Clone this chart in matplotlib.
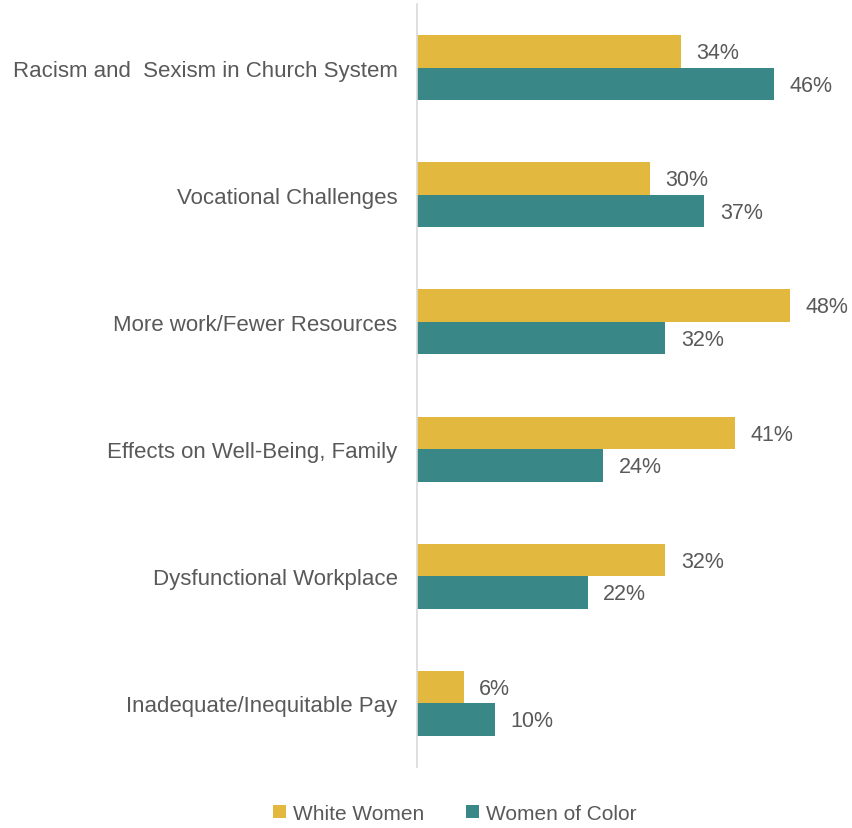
import matplotlib.pyplot as plt
import numpy as np

plt.rcParams['font.family'] = ['Liberation Sans', 'DejaVu Sans']

categories = [
    'Racism and  Sexism in Church System',
    'Vocational Challenges',
    'More work/Fewer Resources',
    'Effects on Well-Being, Family',
    'Dysfunctional Workplace',
    'Inadequate/Inequitable Pay',
]
white_women = [34, 30, 48, 41, 32, 6]
women_of_color = [46, 37, 32, 24, 22, 10]

gold = '#E2B93E'
teal = '#3A8787'
text_color = '#595959'

fig = plt.figure(figsize=(8.53, 8.29), dpi=100)
ax = fig.add_axes([417 / 853, 61 / 829, 427 / 853, 763 / 829])

y = np.arange(len(categories))
h = 0.256
ax.barh(y - h / 2, white_women, height=h, color=gold, label='White Women')
ax.barh(y + h / 2, women_of_color, height=h, color=teal, label='Women of Color')

for yi, v in zip(y, white_women):
    ax.text(v + 2.0, yi - h / 2 + 0.01, f'{v}%', va='center', ha='left',
            fontsize=15.5, color=text_color)
for yi, v in zip(y, women_of_color):
    ax.text(v + 2.0, yi + h / 2 + 0.01, f'{v}%', va='center', ha='left',
            fontsize=15.5, color=text_color)

ax.set_ylim(len(categories) - 0.5, -0.5)
ax.set_xlim(0, 55)
ax.set_yticks(y)
ax.set_yticklabels(categories, fontsize=16, color=text_color)
ax.tick_params(axis='y', length=0, pad=14)
ax.set_xticks([])
for s in ['top', 'right', 'bottom']:
    ax.spines[s].set_visible(False)
ax.spines['left'].set_color('#D9D9D9')
ax.spines['left'].set_linewidth(1.2)

fig.legend(loc='lower center', bbox_to_anchor=(455 / 853, -0.016), ncol=2,
           frameon=False, fontsize=15, labelcolor=text_color,
           handlelength=0.6, handleheight=0.6, handletextpad=0.35,
           columnspacing=2.0)

fig.savefig('out.png', dpi=100)
